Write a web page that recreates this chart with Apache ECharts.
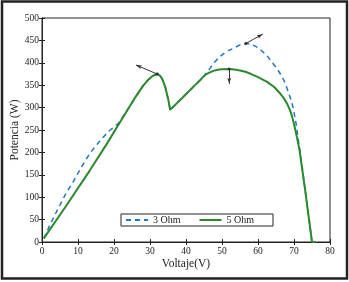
<!DOCTYPE html>
<html>
<head>
<meta charset="utf-8">
<script src="https://cdn.jsdelivr.net/npm/echarts@6/dist/echarts.min.js"></script>
<style>
  html, body { margin: 0; padding: 0; background: #fff; }
  #chart { width: 349px; height: 282px; }
</style>
</head>
<body>
<div id="chart"></div>
<script>
// 3 Ohm curve (dashed blue)
var volt3 = [0.5, 2.2, 4.5, 6.5, 8.7, 11, 13.3, 16, 18.4, 21.2, 22.5, 24, 26, 28.1, 29.5, 30.8, 31.9, 32.7, 33.4, 34.2, 35.1, 35.6, 39, 43, 44, 45.3, 46.7, 48, 49.4, 51.2, 53.1, 55, 56.6, 58, 59.5, 61, 62.5, 63.8, 65.2, 66.6, 67.6, 68.4, 69.2, 69.8, 70.5, 71.2, 71.6, 73.1, 75];
var pow3 = [8, 38, 75, 106, 135, 168, 198, 225, 246, 265, 280, 298, 324, 349, 362, 371, 375, 372, 364, 347, 317, 295, 322, 354, 362, 374, 388, 402, 414, 425, 432, 440, 443, 442, 436, 427, 416, 402, 388, 370, 354, 335, 317, 298, 268, 228, 207, 116, 0];

// 5 Ohm curve (solid green)
var volt5 = [0.5, 6.4, 13.3, 18, 21.7, 24, 26, 28.1, 29.5, 30.8, 31.9, 32.7, 33.4, 34.2, 35.1, 35.6, 39, 43, 43.9, 44.7, 45.5, 46.5, 47.6, 48.8, 50, 52, 53.5, 55, 56.5, 57.8, 60, 62.4, 64.5, 66.1, 67.1, 68, 68.8, 69.4, 70.1, 70.7, 71.5, 73.1, 75, 76];
var pow5 = [8, 77, 160, 219, 268, 298, 324, 349, 362, 371, 375, 372, 364, 347, 317, 295, 322, 354, 361, 368, 374, 378, 382, 384.5, 385.5, 386, 385, 383, 380, 376, 368, 358, 346, 332, 322, 310, 296, 282, 260, 238, 207, 116, 0, 0];

var xTicks = [0, 10, 20, 30, 40, 50, 60, 70, 80];
var yTicks = [0, 50, 100, 150, 200, 250, 300, 350, 400, 450, 500];

// annotation arrows: [from, to] in data coordinates
var arrows = [
  [[32, 375], [26.1, 395]],
  [[56.6, 443], [61.3, 464]],
  [[52, 386], [52, 353]]
];

function pairs(xs, ys) {
  return xs.map(function (x, i) { return [x, ys[i]]; });
}

var font = 'Liberation Serif';

var chart = echarts.init(document.getElementById('chart'));
chart.setOption({
  animation: false,
  backgroundColor: '#fff',
  textStyle: { fontFamily: font },
  graphic: [{
    type: 'rect',
    shape: { x: 2, y: 1.5, width: 345, height: 277 },
    style: { fill: 'none', stroke: '#222', lineWidth: 2.5 },
    silent: true
  }],
  grid: {
    left: 42, right: 19, top: 18, bottom: 40,
    containLabel: false, outerBoundsMode: 'none',
    show: true, borderColor: '#222', borderWidth: 1
  },
  legend: {
    left: 121, top: 214,
    padding: [1, 19, 1, 4],
    itemWidth: 22, itemHeight: 10, itemGap: 18,
    borderColor: '#222', borderWidth: 1,
    backgroundColor: '#fff',
    itemStyle: { opacity: 0 },
    textStyle: { fontFamily: font, fontSize: 10, color: '#222' },
    data: ['3 Ohm', '5 Ohm']
  },
  xAxis: [{
    type: 'value', min: 0, max: 80, interval: 10,
    name: 'Voltaje(V)', nameLocation: 'middle', nameGap: 16,
    nameMoveOverlap: false,
    nameTextStyle: { fontFamily: font, fontSize: 11.5, color: '#222' },
    axisLine: { lineStyle: { color: '#222' } },
    axisTick: { inside: true, length: 3, lineStyle: { color: '#222' } },
    axisLabel: { margin: 4, fontFamily: font, fontSize: 9.5, color: '#222',
      formatter: function (v) { return xTicks.indexOf(v) >= 0 ? String(v) : ''; } },
    splitLine: { show: false }
  }, {
    type: 'value', min: 0, max: 80, interval: 10, position: 'top',
    axisLine: { lineStyle: { color: '#222' } },
    axisTick: { inside: true, length: 3, lineStyle: { color: '#222' } },
    axisLabel: { show: false },
    splitLine: { show: false }
  }],
  yAxis: [{
    type: 'value', min: 0, max: 500, interval: 50,
    name: 'Potencia (W)', nameLocation: 'middle', nameGap: 21,
    nameMoveOverlap: false,
    nameTextStyle: { fontFamily: font, fontSize: 11.5, color: '#222' },
    axisLine: { show: true, lineStyle: { color: '#222' } },
    axisTick: { show: true, inside: true, length: 3, lineStyle: { color: '#222' } },
    axisLabel: { margin: 3, fontFamily: font, fontSize: 9.5, color: '#222',
      formatter: function (v) { return yTicks.indexOf(v) >= 0 ? String(v) : ''; } },
    splitLine: { show: false }
  }, {
    type: 'value', min: 0, max: 500, interval: 50, position: 'right',
    axisLine: { show: true, lineStyle: { color: '#222' } },
    axisTick: { show: true, inside: true, length: 3, lineStyle: { color: '#222' } },
    axisLabel: { show: false },
    splitLine: { show: false }
  }],
  series: [{
    name: '3 Ohm',
    type: 'line',
    symbol: 'none',
    color: '#1f74cc',
    lineStyle: { width: 1.5, type: [5, 4], color: '#1f74cc' },
    data: pairs(volt3, pow3),
    z: 2
  }, {
    name: '5 Ohm',
    type: 'line',
    symbol: 'none',
    color: '#2a8a2a',
    lineStyle: { width: 2, color: '#2a8a2a' },
    data: pairs(volt5, pow5),
    z: 3,
    markLine: {
      silent: true,
      animation: false,
      symbol: ['circle', 'arrow'],
      symbolSize: [3, 6],
      label: { show: false },
      lineStyle: { color: '#333', width: 1, type: 'solid' },
      data: arrows.map(function (a) {
        return [{ coord: a[0] }, { coord: a[1] }];
      })
    }
  }]
});
</script>
</body>
</html>
